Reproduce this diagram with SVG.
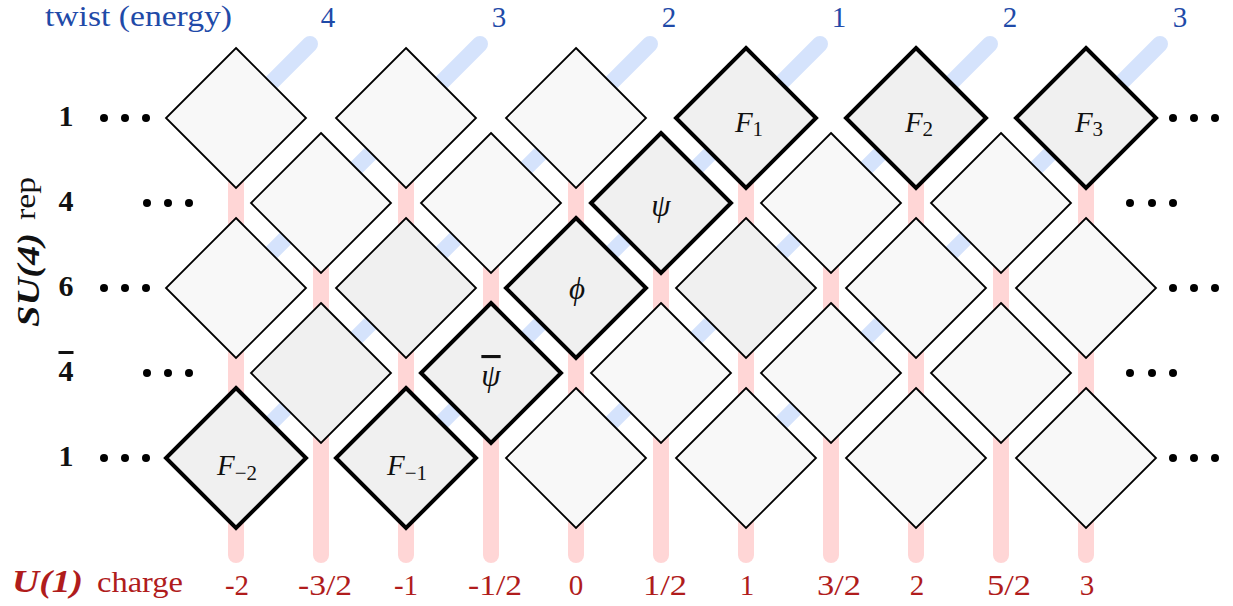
<svg xmlns="http://www.w3.org/2000/svg" width="1233" height="606" viewBox="0 0 1233 606">
<style>
.bg{fill:#ffffff}
.red{stroke:#ffd6d6;stroke-width:16;stroke-linecap:round;fill:none}
.blue{stroke:#d5e3fc;stroke-width:16;stroke-linecap:round;fill:none}
.dm{fill:#f8f8f8;stroke:#000;stroke-width:1.8;stroke-linejoin:miter}
.dk{fill:#f0f0f0}
.hl{fill:#f0f0f0;stroke-width:4}
.blab{font-family:"Liberation Serif",serif;font-size:29px;fill:#1f4aa8}
.rlab{font-family:"Liberation Serif",serif;font-size:29px;fill:#b01c1c;text-anchor:middle}
.row{font-family:"Liberation Serif",serif;font-size:30px;font-weight:bold;fill:#111;text-anchor:middle}
.sym{font-family:"Liberation Serif",serif;font-size:29px;font-style:italic;fill:#111;text-anchor:middle}
.gr{font-size:31px}
.sub{font-size:21px;font-style:normal}
.ov{text-decoration:overline}
.dot{fill:#000}
</style>
<defs>
<polygon id="dia" points="0,-70 70,0 0,70 -70,0"/>
</defs>
<rect class="bg" x="0" y="0" width="1233" height="606"/>

<g id="connectors">
<g id="twist-lines">
<line class="blue" x1="310" y1="44" x2="236" y2="118"/>
<line class="blue" x1="480" y1="44" x2="236" y2="288"/>
<line class="blue" x1="650" y1="44" x2="236" y2="458"/>
<line class="blue" x1="820" y1="44" x2="406" y2="458"/>
<line class="blue" x1="990" y1="44" x2="576" y2="458"/>
<line class="blue" x1="1160" y1="44" x2="746" y2="458"/>
</g>
<g id="charge-lines">
<line class="red" x1="236" y1="118" x2="236" y2="555"/>
<line class="red" x1="321" y1="203" x2="321" y2="555"/>
<line class="red" x1="406" y1="118" x2="406" y2="555"/>
<line class="red" x1="491" y1="203" x2="491" y2="555"/>
<line class="red" x1="576" y1="118" x2="576" y2="555"/>
<line class="red" x1="661" y1="203" x2="661" y2="555"/>
<line class="red" x1="746" y1="118" x2="746" y2="555"/>
<line class="red" x1="831" y1="203" x2="831" y2="555"/>
<line class="red" x1="916" y1="118" x2="916" y2="555"/>
<line class="red" x1="1001" y1="203" x2="1001" y2="555"/>
<line class="red" x1="1086" y1="118" x2="1086" y2="555"/>
</g>
</g>

<g id="nodes">
<!-- row 1 (y=118) -->
<g id="n-r1-c236"><use href="#dia" class="dm" x="236" y="118"/></g>
<g id="n-r1-c406"><use href="#dia" class="dm" x="406" y="118"/></g>
<g id="n-r1-c576"><use href="#dia" class="dm" x="576" y="118"/></g>
<g id="n-F1"><use href="#dia" class="dm hl" x="746" y="118"/><text class="sym" x="749" y="132">F<tspan class="sub" dy="4">1</tspan></text></g>
<g id="n-F2"><use href="#dia" class="dm hl" x="916" y="118"/><text class="sym" x="919" y="132">F<tspan class="sub" dy="4">2</tspan></text></g>
<g id="n-F3"><use href="#dia" class="dm hl" x="1086" y="118"/><text class="sym" x="1089" y="132">F<tspan class="sub" dy="4">3</tspan></text></g>
<!-- row 2 (y=203) -->
<g id="n-r2-c321"><use href="#dia" class="dm" x="321" y="203"/></g>
<g id="n-r2-c491"><use href="#dia" class="dm" x="491" y="203"/></g>
<g id="n-psi"><use href="#dia" class="dm hl" x="661" y="203"/><text class="sym gr" x="661" y="216">ψ</text></g>
<g id="n-r2-c831"><use href="#dia" class="dm" x="831" y="203"/></g>
<g id="n-r2-c1001"><use href="#dia" class="dm" x="1001" y="203"/></g>
<!-- row 3 (y=288) -->
<g id="n-r3-c236"><use href="#dia" class="dm" x="236" y="288"/></g>
<g id="n-r3-c406"><use href="#dia" class="dm dk" x="406" y="288"/></g>
<g id="n-phi"><use href="#dia" class="dm hl" x="576" y="288"/><text class="sym gr" x="577" y="299">ϕ</text></g>
<g id="n-r3-c746"><use href="#dia" class="dm dk" x="746" y="288"/></g>
<g id="n-r3-c916"><use href="#dia" class="dm" x="916" y="288"/></g>
<g id="n-r3-c1086"><use href="#dia" class="dm" x="1086" y="288"/></g>
<!-- row 4 (y=373) -->
<g id="n-r4-c321"><use href="#dia" class="dm dk" x="321" y="373"/></g>
<g id="n-psibar"><use href="#dia" class="dm hl" x="491" y="373"/><text class="sym gr ov" x="491" y="386">ψ</text></g>
<g id="n-r4-c661"><use href="#dia" class="dm" x="661" y="373"/></g>
<g id="n-r4-c831"><use href="#dia" class="dm" x="831" y="373"/></g>
<g id="n-r4-c1001"><use href="#dia" class="dm" x="1001" y="373"/></g>
<!-- row 5 (y=458) -->
<g id="n-Fm2"><use href="#dia" class="dm hl" x="236" y="458"/><text class="sym" x="237" y="475">F<tspan class="sub" dy="5">−2</tspan></text></g>
<g id="n-Fm1"><use href="#dia" class="dm hl" x="406" y="458"/><text class="sym" x="407" y="475">F<tspan class="sub" dy="5">−1</tspan></text></g>
<g id="n-r5-c576"><use href="#dia" class="dm" x="576" y="458"/></g>
<g id="n-r5-c746"><use href="#dia" class="dm" x="746" y="458"/></g>
<g id="n-r5-c916"><use href="#dia" class="dm" x="916" y="458"/></g>
<g id="n-r5-c1086"><use href="#dia" class="dm" x="1086" y="458"/></g>
</g>

<g id="ellipses">
<circle class="dot" cx="104" cy="118" r="4"/><circle class="dot" cx="125" cy="118" r="4"/><circle class="dot" cx="146" cy="118" r="4"/>
<circle class="dot" cx="147" cy="203" r="4"/><circle class="dot" cx="168" cy="203" r="4"/><circle class="dot" cx="189" cy="203" r="4"/>
<circle class="dot" cx="104" cy="288" r="4"/><circle class="dot" cx="125" cy="288" r="4"/><circle class="dot" cx="146" cy="288" r="4"/>
<circle class="dot" cx="147" cy="373" r="4"/><circle class="dot" cx="168" cy="373" r="4"/><circle class="dot" cx="189" cy="373" r="4"/>
<circle class="dot" cx="104" cy="458" r="4"/><circle class="dot" cx="125" cy="458" r="4"/><circle class="dot" cx="146" cy="458" r="4"/>
<circle class="dot" cx="1173" cy="118" r="4"/><circle class="dot" cx="1194" cy="118" r="4"/><circle class="dot" cx="1215" cy="118" r="4"/>
<circle class="dot" cx="1130" cy="203" r="4"/><circle class="dot" cx="1152" cy="203" r="4"/><circle class="dot" cx="1173" cy="203" r="4"/>
<circle class="dot" cx="1173" cy="288" r="4"/><circle class="dot" cx="1194" cy="288" r="4"/><circle class="dot" cx="1215" cy="288" r="4"/>
<circle class="dot" cx="1130" cy="373" r="4"/><circle class="dot" cx="1152" cy="373" r="4"/><circle class="dot" cx="1173" cy="373" r="4"/>
<circle class="dot" cx="1173" cy="458" r="4"/><circle class="dot" cx="1194" cy="458" r="4"/><circle class="dot" cx="1215" cy="458" r="4"/>
</g>

<g id="row-labels">
<text class="row" x="66" y="126">1</text>
<text class="row" x="66" y="211">4</text>
<text class="row" x="66" y="296">6</text>
<text class="row ov" x="66" y="381">4</text>
<text class="row" x="66" y="466">1</text>
<text font-family="Liberation Serif, serif" fill="#111" font-size="32" font-weight="bold" font-style="italic" transform="translate(39,327) rotate(-90)" textLength="94" lengthAdjust="spacingAndGlyphs">SU(4)</text>
<text font-family="Liberation Serif, serif" fill="#111" font-size="29" transform="translate(35,220) rotate(-90)" textLength="43" lengthAdjust="spacingAndGlyphs">rep</text>
</g>

<g id="twist-labels">
<text class="blab" x="45" y="26" font-size="30" textLength="187" lengthAdjust="spacingAndGlyphs">twist (energy)</text>
<text class="blab" x="328" y="27" text-anchor="middle">4</text>
<text class="blab" x="499" y="27" text-anchor="middle">3</text>
<text class="blab" x="669" y="27" text-anchor="middle">2</text>
<text class="blab" x="839" y="27" text-anchor="middle">1</text>
<text class="blab" x="1010" y="27" text-anchor="middle">2</text>
<text class="blab" x="1180" y="27" text-anchor="middle">3</text>
</g>

<g id="charge-labels">
<text font-family="Liberation Serif, serif" fill="#b01c1c" x="12" y="592" font-size="32" font-weight="bold" font-style="italic" textLength="71" lengthAdjust="spacingAndGlyphs">U(1)</text>
<text font-family="Liberation Serif, serif" fill="#b01c1c" x="97" y="592" font-size="30" textLength="86" lengthAdjust="spacingAndGlyphs">charge</text>
<text class="rlab" x="237" y="595">-2</text>
<text class="rlab" x="325" y="595" textLength="54" lengthAdjust="spacingAndGlyphs">-3/2</text>
<text class="rlab" x="406" y="595">-1</text>
<text class="rlab" x="495" y="595" textLength="54" lengthAdjust="spacingAndGlyphs">-1/2</text>
<text class="rlab" x="576" y="595">0</text>
<text class="rlab" x="665" y="595" textLength="44" lengthAdjust="spacingAndGlyphs">1/2</text>
<text class="rlab" x="747" y="595">1</text>
<text class="rlab" x="839" y="595" textLength="44" lengthAdjust="spacingAndGlyphs">3/2</text>
<text class="rlab" x="917" y="595">2</text>
<text class="rlab" x="1009" y="595" textLength="44" lengthAdjust="spacingAndGlyphs">5/2</text>
<text class="rlab" x="1087" y="595">3</text>
</g>
</svg>
